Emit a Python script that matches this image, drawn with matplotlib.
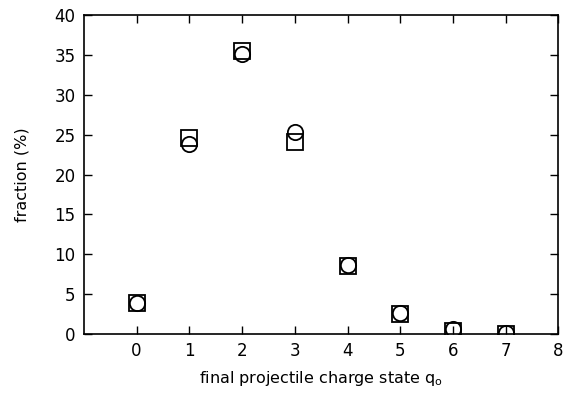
#!/usr/bin/env python3
"""Final projectile charge state distribution (squares vs circles)."""

import matplotlib
matplotlib.use('Agg')
import matplotlib.pyplot as plt

# ── data ─────────────────────────────────────────────────────
charge_state = [0, 1, 2, 3, 4, 5, 6, 7]
frac_square = [3.9, 24.6, 35.5, 24.1, 8.5, 2.5, 0.4, 0.0]
frac_circle = [3.9, 23.8, 35.1, 25.4, 8.7, 2.6, 0.6, 0.1]

x_ticks = list(range(0, 9))
y_ticks = list(range(0, 41, 5))

plt.rcParams['font.family'] = ['DejaVu Sans']

fig = plt.figure(figsize=(5.63, 3.99), dpi=100, facecolor='white')
ax = fig.add_axes([0.149, 0.163, 0.843, 0.799])

ax.plot(charge_state, frac_square, linestyle='none', marker='s', markersize=11,
        markerfacecolor='none', markeredgecolor='black', markeredgewidth=1.3)
ax.plot(charge_state, frac_circle, linestyle='none', marker='o', markersize=11,
        markerfacecolor='none', markeredgecolor='black', markeredgewidth=1.3)

ax.set_xlim(-1, 8)
ax.set_ylim(0, 40)
ax.set_xticks(x_ticks)
ax.set_yticks(y_ticks)
ax.tick_params(direction='in', top=True, right=True, length=6, width=1.0,
               labelsize=12, pad=6, labelright=False, labeltop=False)
for s in ax.spines.values():
    s.set_linewidth(1.2)

ax.set_xlabel('final projectile charge state q$_\\mathregular{o}$', fontsize=11.5,
              labelpad=6)
ax.set_ylabel('fraction (%)', fontsize=11.5, labelpad=18)

fig.savefig('out.png', dpi=100, facecolor='white')
